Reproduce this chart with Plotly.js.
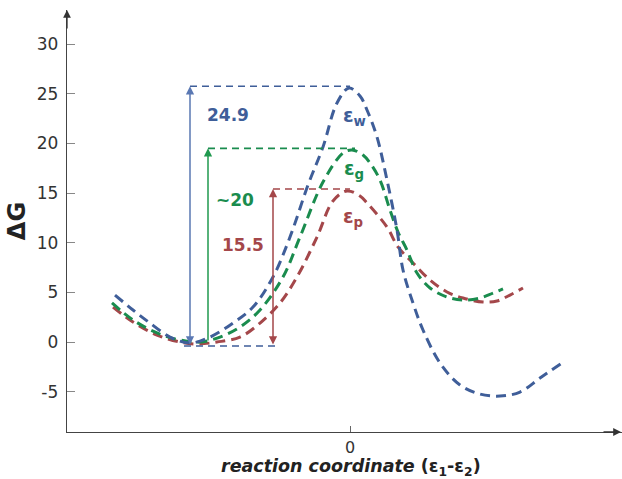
<!DOCTYPE html>
<html>
<head>
<meta charset="utf-8">
<script src="https://cdn.plot.ly/plotly-3.0.1.min.js"></script>
<style>html,body{margin:0;padding:0;background:#fff;}#chart{width:622px;height:479px;}</style>
</head>
<body>
<div id="chart"></div>
<script>
// Curve data (reaction coordinate, ΔG)
const wX = [-2.35,-2.17,-2.00,-1.80,-1.60,-1.40,-1.17,-0.97,-0.77,-0.60,-0.42,-0.27,-0.13,-0.01,0.10,0.17,0.27,0.37,0.47,0.53,0.63,0.73,0.90,1.10,1.30,1.50,1.70,1.90,2.12];
const wY = [4.73,3.22,1.91,0.50,-0.10,0.50,1.91,3.52,6.55,10.57,15.81,19.64,24.07,25.58,24.77,23.36,20.64,16.31,11.28,7.25,3.93,1.21,-2.11,-4.33,-5.24,-5.44,-5.04,-3.63,-2.11];

const gX = [-2.38,-2.17,-1.93,-1.70,-1.50,-1.30,-1.10,-0.90,-0.67,-0.50,-0.27,-0.07,0.02,0.13,0.20,0.30,0.40,0.48,0.57,0.67,0.80,0.97,1.13,1.30,1.43,1.53];
const gY = [3.93,2.22,0.91,0.20,0.00,0.50,1.51,3.22,6.55,10.57,16.11,19.03,19.34,18.83,18.03,16.31,13.29,11.08,9.26,6.95,5.44,4.53,4.23,4.43,4.93,5.34];

const pX = [-2.37,-2.17,-1.93,-1.70,-1.53,-1.33,-1.10,-0.90,-0.70,-0.53,-0.33,-0.17,-0.03,0.10,0.17,0.37,0.48,0.63,0.80,0.97,1.13,1.33,1.47,1.60,1.73];
const pY = [3.52,2.01,0.70,0.00,-0.20,0.00,0.50,1.91,3.93,6.55,10.57,14.20,15.21,14.70,14.00,11.58,9.57,7.96,6.24,5.04,4.43,4.03,4.13,4.73,5.44];

// Barrier markers
const barrierLabels = ['24.9', '~20', '15.5'];
const barrierX = [-1.60, -1.42, -0.77];     // arrow positions
const barrierTop = [25.75, 19.5, 15.4];
const barrierBottom = [-0.4, 0.0, -0.4];
const yTicks = [-5, 0, 5, 10, 15, 20, 25, 30];
const yTickText = ['-5', '0', '5', '10', '15', '20', '25', '30'];
const xTicks = [0];
const xTickText = ['0'];
const xTitle = '<b><i>reaction coordinate</i> (ε<sub>1</sub>-ε<sub>2</sub>)</b>';
const yTitle = '<b>ΔG</b>';

const cBlue = '#3f5e99', cGreen = '#1a8c4e', cRed = '#a4474a';
const aBlue = '#5a78b3', aGreen = '#20994f', aRed = '#a4474a';

const curveDash = '10px,6px';
function curve(x, y, c) {
  return {x: x, y: y, mode: 'lines', type: 'scatter',
    line: {color: c, width: 3, dash: curveDash, shape: 'spline', smoothing: 1},
    hoverinfo: 'skip', showlegend: false};
}
const data = [curve(pX, pY, cRed), curve(gX, gY, cGreen), curve(wX, wY, cBlue)];

const hl = (x0, x1, y, c) => ({type: 'line', xref: 'x', yref: 'y', x0: x0, x1: x1, y0: y, y1: y,
  line: {color: c, width: 1.6, dash: '7px,5px'}});
const shapes = [
  hl(barrierX[0], 0.0, barrierTop[0], cBlue),
  hl(-1.66, -0.75, barrierBottom[0], cBlue),
  hl(barrierX[1], 0.05, barrierTop[1], cGreen),
  hl(barrierX[2], 0.0, barrierTop[2], cRed)
];

function arrow(x, y0, y1, c, both) {
  return {x: x, y: y1, ax: x, ay: y0, xref: 'x', yref: 'y', axref: 'x', ayref: 'y',
    text: '', showarrow: true, arrowhead: 2, startarrowhead: 2, arrowsize: 1.1, startarrowsize: 1.1,
    arrowwidth: 1.5, arrowcolor: c, arrowside: both ? 'end+start' : 'end'};
}
function lab(x, y, t, c, s) {
  return {x: x, y: y, xref: 'x', yref: 'y', text: t, showarrow: false,
    font: {family: 'DejaVu Sans', size: s, color: c}};
}
const annotations = [
  arrow(barrierX[0], barrierBottom[0], barrierTop[0], aBlue, true),
  arrow(barrierX[1], barrierBottom[1], barrierTop[1], aGreen, false),
  arrow(barrierX[2], barrierBottom[2], barrierTop[2], aRed, true),
  lab(-1.22, 22.86, '<b>' + barrierLabels[0] + '</b>', cBlue, 17),
  lab(-1.15, 14.3, '<b>' + barrierLabels[1] + '</b>', cGreen, 17),
  lab(-1.07, 9.77, '<b>' + barrierLabels[2] + '</b>', cRed, 17),
  lab(0.04, 22.7, '<b>ε<sub>w</sub></b>', cBlue, 19),
  lab(0.04, 17.4, '<b>ε<sub>g</sub></b>', cGreen, 19),
  lab(0.03, 12.5, '<b>ε<sub>p</sub></b>', cRed, 19),
  // axis titles
  {x: 0.512, y: -0.083, xref: 'paper', yref: 'paper', xanchor: 'center', yanchor: 'middle',
    text: xTitle, showarrow: false, font: {family: 'DejaVu Sans', size: 17.5, color: '#222'}},
  // axis arrowheads
  {x: 0, y: 1, xref: 'paper', yref: 'paper', ax: 0, ay: 20, text: '', showarrow: true,
    arrowhead: 2, arrowsize: 1.2, arrowwidth: 1.3, arrowcolor: '#333'},
  {x: 1, y: 0, xref: 'paper', yref: 'paper', ax: -20, ay: 0, text: '', showarrow: true,
    arrowhead: 2, arrowsize: 1.2, arrowwidth: 1.3, arrowcolor: '#333'}
];

const layout = {
  width: 622, height: 479,
  margin: {l: 67, r: 0, t: 10, b: 47},
  paper_bgcolor: '#fff', plot_bgcolor: '#fff',
  font: {family: 'DejaVu Sans', color: '#333'},
  showlegend: false,
  xaxis: {range: [-2.83, 2.72], showgrid: false, zeroline: false, showline: true,
    linecolor: '#444', linewidth: 1.3, ticks: 'inside', ticklen: 6, tickcolor: '#666',
    tickvals: xTicks, ticktext: xTickText, tickfont: {size: 16, color: '#333'},
    ticklabelstandoff: 0},
  yaxis: {range: [-9.06, 33.43], showgrid: false, zeroline: false, showline: true,
    linecolor: '#444', linewidth: 1.3, ticks: 'inside', ticklen: 8, tickcolor: '#888',
    tickvals: yTicks, ticktext: yTickText, tickfont: {size: 17, color: '#333'}, ticklabelstandoff: 4,
    title: {text: yTitle, font: {size: 24, color: '#222'}, standoff: 4}},
  shapes: shapes, annotations: annotations
};
Plotly.newPlot('chart', data, layout, {displayModeBar: false, staticPlot: true});
</script>
</body>
</html>
